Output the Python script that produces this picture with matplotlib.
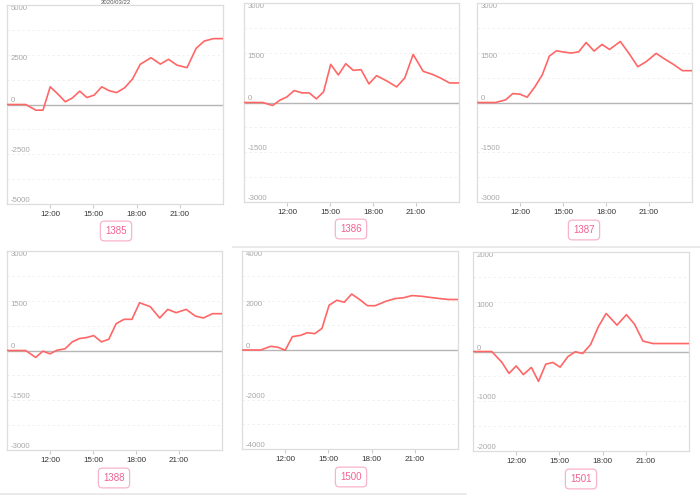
import numpy as np
import pandas as pd
import matplotlib
matplotlib.use("Agg")
import matplotlib.pyplot as plt
import matplotlib.dates as mdates

# sample times shared by all six panels
TIMES = ["09:00", "10:18", "11:00", "11:30", "12:00", "12:30", "13:03", "13:33",
         "14:03", "14:33", "15:03", "15:35", "16:06", "16:37", "17:10", "17:43",
         "18:15", "19:00", "19:39", "20:13", "20:48", "21:30", "22:08", "22:42",
         "23:20", "23:57"]

VALUES_1385 = [0, 0, -285, -285, 890, 550, 135, 335, 670, 350, 470, 890, 690, 600,
               840, 1280, 2020, 2350, 2030, 2270, 1980, 1850, 2820, 3190, 3310, 3310]
VALUES_1386 = [0, 0, -90, 70, 170, 360, 290, 290, 110, 320, 1150, 830, 1170, 970,
               990, 560, 810, 640, 470, 740, 1450, 940, 850, 740, 590, 590]
VALUES_1387 = [0, 0, 80, 270, 250, 160, 480, 830, 1400, 1560, 1520, 1490, 1530, 1810,
               1550, 1750, 1600, 1840, 1450, 1080, 1230, 1480, 1300, 1150, 960, 960]
VALUES_1388 = [0, 0, -210, -20, -100, 10, 50, 260, 360, 390, 450, 260, 340, 810,
               940, 940, 1440, 1320, 980, 1240, 1140, 1240, 1040, 980, 1110, 1110]
VALUES_1500 = [0, 0, 150, 110, -10, 540, 590, 700, 660, 870, 1810, 2010, 1930, 2260,
               2040, 1790, 1790, 1970, 2080, 2110, 2200, 2170, 2120, 2080, 2040, 2040]
VALUES_1501 = [0, 0, -215, -440, -290, -465, -320, -600, -255, -220, -315, -105, -5, -40,
               140, 505, 765, 530, 740, 550, 210, 160, 160, 160, 160, 160]

PANEL_NAMES = ["1385", "1386", "1387", "1388", "1500", "1501"]
PANEL_VALUES = [VALUES_1385, VALUES_1386, VALUES_1387, VALUES_1388, VALUES_1500, VALUES_1501]
Y_LIMITS = [5000, 3000, 3000, 3000, 4000, 2000]

# layout in pixels: (left, right, top, bottom) of each plot box, and centre of the name badge
W, H = 700, 495
BOXES = [(7, 223, 5, 204), (244, 459, 3, 202), (477, 692, 3, 202),
         (7, 222, 251, 450), (242, 458, 251, 449), (473, 689, 252, 451)]
BADGES = [(116, 231), (351, 229), (584, 230), (114, 478), (351, 477), (581, 479)]

LINE_COLOR = "#ff6666"
BADGE_TEXT = "#f06292"
BADGE_EDGE = "#f8b4cb"

plt.rcParams["font.family"] = ["Liberation Sans", "DejaVu Sans"]


def main():
    x = pd.to_datetime("2020-03-22 " + pd.Series(TIMES))
    x0 = pd.Timestamp("2020-03-22 09:00")
    x1 = pd.Timestamp("2020-03-23 00:00")

    fig = plt.figure(figsize=(W / 100, H / 100), dpi=100)

    for name, vals, lim, (l, r, t, b), (bx, by) in zip(
            PANEL_NAMES, PANEL_VALUES, Y_LIMITS, BOXES, BADGES):
        ax = fig.add_axes([l / W, 1 - b / H, (r - l) / W, (b - t) / H])
        ax.plot(x, vals, color=LINE_COLOR, lw=1.2, zorder=3)
        ax.axhline(0, color="#b5b5b5", lw=1.0, zorder=2)

        ax.set_xlim(x0, x1)
        ax.set_ylim(-lim, lim)
        ax.xaxis.set_major_locator(mdates.HourLocator(byhour=[12, 15, 18, 21]))
        ax.xaxis.set_major_formatter(mdates.DateFormatter("%H:%M"))
        ticks = np.arange(-lim, lim + 1, lim // 2)
        ax.set_yticks(ticks)
        ax.set_yticklabels([str(int(v)) for v in ticks])
        ax.set_yticks(np.arange(-lim, lim + 1, lim // 4), minor=True)

        ax.grid(axis="y", which="both", color="#efefef", lw=0.6, ls=(0, (3, 3)))
        ax.tick_params(axis="y", which="both", length=0, pad=-2.5,
                       labelsize=5.6, labelcolor="#a8a8a8")
        ax.tick_params(axis="x", length=3, color="#cccccc", pad=2,
                       labelsize=5.8, labelcolor="#333333")
        for v, lab in zip(ticks, ax.get_yticklabels()):
            lab.set_ha("left")
            lab.set_va("top" if v > 0 else "bottom")

        for s in ax.spines.values():
            s.set_color("#dddddd")
            s.set_linewidth(0.9)

        fig.text(bx / W, 1 - by / H, name, ha="center", va="center",
                 fontsize=7, color=BADGE_TEXT,
                 bbox=dict(boxstyle="round,pad=0.5,rounding_size=0.4",
                           fc="white", ec=BADGE_EDGE, lw=0.9))

    # date heading of the first screenshot, squeezed against the top edge
    fig.text(116 / W, 1.0, "2020/03/22", ha="center", va="top",
             fontsize=4.3, color="#555555")

    # screenshot seams
    fig.add_artist(plt.Line2D([233 / W, 1], [1 - 246.5 / H] * 2,
                              transform=fig.transFigure, color="#e6e6e6", lw=1.2))
    fig.add_artist(plt.Line2D([0, 466 / W], [1 - 494 / H] * 2,
                              transform=fig.transFigure, color="#e6e6e6", lw=1.2))

    fig.savefig("out.png", dpi=100, facecolor="white")


if __name__ == "__main__":
    main()
